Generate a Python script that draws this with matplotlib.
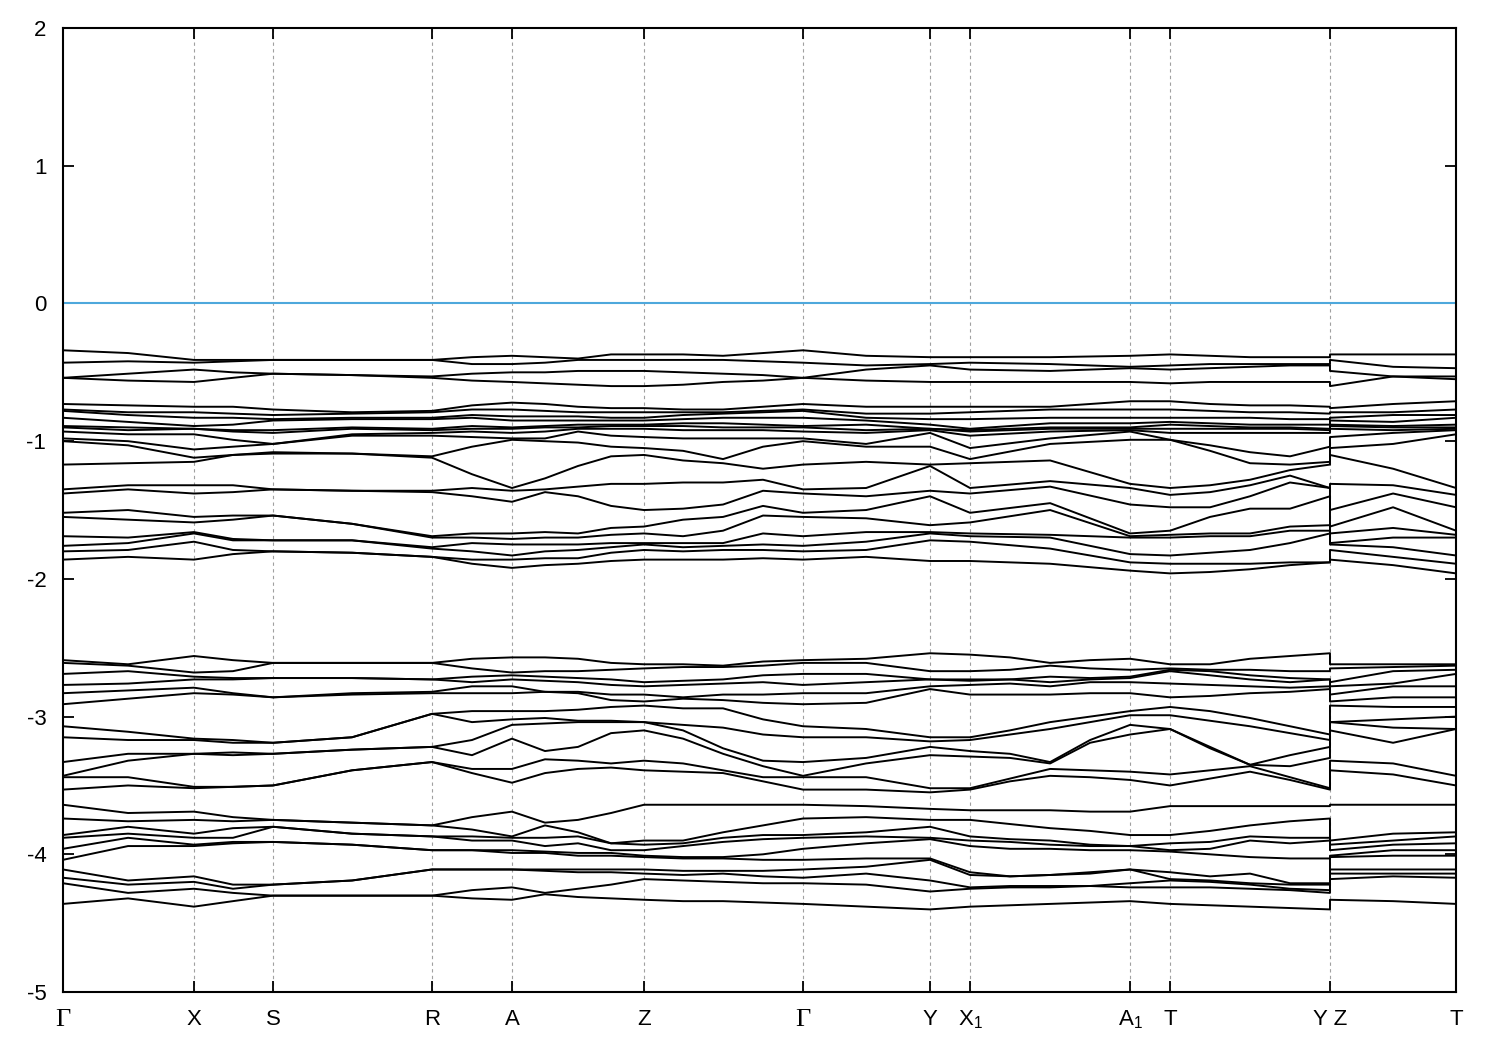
import numpy as np
import matplotlib.pyplot as plt

plt.rcParams['font.family'] = ['Liberation Sans', 'DejaVu Sans']
plt.rcParams['mathtext.fontset'] = 'custom'
plt.rcParams['mathtext.rm'] = 'Liberation Sans'
plt.rcParams['mathtext.it'] = 'Liberation Sans'
plt.rcParams['axes.unicode_minus'] = False

# high-symmetry points along the k-path
labels = ['Γ', 'X', 'S', 'R', 'A', 'Z', 'Γ', 'Y', 'X$_1$', 'A$_1$', 'T', 'Y Z', 'T']
k_ticks = [0.0, 0.0940, 0.1508, 0.2649, 0.3223, 0.4171, 0.5312, 0.6224, 0.6511, 0.7660, 0.7947, 0.9095, 1.0]

# k positions where energies were read
k_up = [0.0, 0.0467, 0.0940, 0.1220, 0.1508, 0.2075, 0.2649, 0.2936, 0.3223, 0.3460,
        0.3697, 0.3934, 0.4171, 0.4451, 0.4738, 0.5025, 0.5312, 0.5765, 0.6224, 0.6511,
        0.7086, 0.7660, 0.7947, 0.8234, 0.8521, 0.8808, 0.9095, 0.9095, 0.9548, 1.0]
k_lo = [0.0, 0.0467, 0.0940, 0.1220, 0.1508, 0.2075, 0.2649, 0.2936, 0.3223, 0.3460,
        0.3697, 0.3934, 0.4171, 0.4451, 0.4738, 0.5025, 0.5312, 0.5765, 0.6224, 0.6511,
        0.6798, 0.7086, 0.7373, 0.7660, 0.7947, 0.8234, 0.8521, 0.8808, 0.9095, 0.9095,
        0.9548, 1.0]

# upper valence block (eV), one list per k position
u_g = [-0.34, -0.43, -0.54, -0.54, -0.73, -0.77, -0.78, -0.83, -0.89, -0.90, -0.93, -0.98, -1.00, -1.17, -1.35, -1.38, -1.52, -1.55, -1.69, -1.76, -1.80, -1.86]
u_gx = [-0.36, -0.42, -0.51, -0.56, -0.74, -0.79, -0.81, -0.86, -0.90, -0.92, -0.95, -1.00, -1.03, -1.16, -1.32, -1.35, -1.50, -1.57, -1.70, -1.74, -1.79, -1.84]
u_x = [-0.41, -0.43, -0.48, -0.57, -0.75, -0.79, -0.83, -0.89, -0.91, -0.91, -0.95, -1.06, -1.12, -1.15, -1.32, -1.38, -1.55, -1.59, -1.66, -1.67, -1.73, -1.86]
u_xs = [-0.41, -0.42, -0.50, -0.54, -0.75, -0.80, -0.83, -0.88, -0.92, -0.93, -0.99, -1.04, -1.10, -1.10, -1.32, -1.37, -1.54, -1.57, -1.71, -1.72, -1.79, -1.82]
u_s = [-0.41, -0.41, -0.51, -0.51, -0.77, -0.81, -0.84, -0.85, -0.92, -0.94, -1.02, -1.02, -1.08, -1.09, -1.35, -1.35, -1.54, -1.54, -1.72, -1.72, -1.80, -1.80]
u_sr = [-0.41, -0.41, -0.52, -0.52, -0.79, -0.80, -0.83, -0.84, -0.90, -0.91, -0.95, -0.96, -1.09, -1.09, -1.36, -1.36, -1.60, -1.60, -1.72, -1.72, -1.81, -1.81]
u_r = [-0.41, -0.41, -0.53, -0.54, -0.78, -0.79, -0.83, -0.84, -0.91, -0.92, -0.94, -0.96, -1.11, -1.12, -1.36, -1.37, -1.69, -1.70, -1.77, -1.78, -1.84, -1.84]
u_ra = [-0.39, -0.44, -0.51, -0.56, -0.74, -0.77, -0.81, -0.83, -0.89, -0.91, -0.93, -0.97, -1.04, -1.24, -1.34, -1.40, -1.67, -1.70, -1.74, -1.80, -1.86, -1.89]
u_a = [-0.38, -0.44, -0.50, -0.57, -0.72, -0.77, -0.82, -0.85, -0.90, -0.91, -0.94, -0.98, -0.99, -1.34, -1.36, -1.44, -1.67, -1.71, -1.75, -1.83, -1.86, -1.92]
u_az1 = [-0.39, -0.43, -0.50, -0.58, -0.73, -0.78, -0.82, -0.85, -0.89, -0.90, -0.93, -0.98, -1.00, -1.27, -1.35, -1.37, -1.66, -1.70, -1.75, -1.80, -1.85, -1.90]
u_az = [-0.40, -0.41, -0.49, -0.59, -0.75, -0.79, -0.82, -0.85, -0.88, -0.90, -0.91, -0.93, -1.01, -1.18, -1.33, -1.40, -1.67, -1.70, -1.75, -1.79, -1.85, -1.89]
u_az2 = [-0.37, -0.41, -0.49, -0.60, -0.76, -0.79, -0.83, -0.85, -0.88, -0.89, -0.91, -0.96, -1.04, -1.11, -1.31, -1.47, -1.63, -1.68, -1.74, -1.77, -1.81, -1.87]
u_z = [-0.37, -0.41, -0.49, -0.60, -0.76, -0.79, -0.83, -0.85, -0.88, -0.89, -0.91, -0.97, -1.05, -1.10, -1.31, -1.50, -1.62, -1.67, -1.74, -1.75, -1.79, -1.86]
u_zg1 = [-0.37, -0.41, -0.50, -0.59, -0.77, -0.79, -0.81, -0.84, -0.87, -0.89, -0.92, -0.98, -1.07, -1.14, -1.30, -1.49, -1.57, -1.69, -1.74, -1.77, -1.80, -1.86]
u_zg = [-0.38, -0.41, -0.51, -0.57, -0.77, -0.79, -0.80, -0.83, -0.87, -0.90, -0.92, -0.98, -1.13, -1.16, -1.30, -1.46, -1.55, -1.65, -1.74, -1.76, -1.79, -1.86]
u_zg2 = [-0.36, -0.42, -0.52, -0.56, -0.75, -0.78, -0.79, -0.83, -0.88, -0.90, -0.92, -0.98, -1.04, -1.20, -1.28, -1.36, -1.47, -1.54, -1.67, -1.75, -1.79, -1.85]
u_gy = [-0.38, -0.45, -0.48, -0.56, -0.75, -0.80, -0.83, -0.85, -0.88, -0.92, -0.94, -1.02, -1.04, -1.15, -1.34, -1.40, -1.50, -1.56, -1.66, -1.73, -1.79, -1.84]
u_y = [-0.39, -0.44, -0.45, -0.57, -0.75, -0.80, -0.84, -0.88, -0.91, -0.91, -0.92, -0.94, -1.04, -1.17, -1.18, -1.36, -1.40, -1.61, -1.66, -1.67, -1.72, -1.87]
u_x1 = [-0.39, -0.43, -0.48, -0.57, -0.75, -0.79, -0.84, -0.91, -0.92, -0.93, -0.96, -1.05, -1.13, -1.16, -1.34, -1.38, -1.52, -1.59, -1.67, -1.69, -1.73, -1.87]
u_xa = [-0.39, -0.44, -0.49, -0.57, -0.75, -0.77, -0.83, -0.87, -0.90, -0.91, -0.93, -0.98, -1.02, -1.14, -1.29, -1.33, -1.45, -1.50, -1.68, -1.70, -1.78, -1.89]
u_a1 = [-0.38, -0.46, -0.47, -0.57, -0.71, -0.77, -0.83, -0.87, -0.90, -0.91, -0.92, -0.93, -0.99, -1.31, -1.34, -1.46, -1.67, -1.69, -1.70, -1.82, -1.88, -1.94]
u_t = [-0.37, -0.45, -0.48, -0.58, -0.71, -0.77, -0.83, -0.86, -0.88, -0.91, -0.94, -0.99, -0.99, -1.34, -1.39, -1.48, -1.65, -1.68, -1.70, -1.83, -1.89, -1.96]
u_ty1 = [-0.38, -0.44, -0.47, -0.57, -0.73, -0.78, -0.83, -0.87, -0.89, -0.91, -0.94, -1.03, -1.07, -1.32, -1.37, -1.48, -1.55, -1.67, -1.69, -1.81, -1.89, -1.95]
u_ty2 = [-0.39, -0.44, -0.46, -0.57, -0.74, -0.79, -0.83, -0.88, -0.90, -0.91, -0.94, -1.08, -1.16, -1.28, -1.32, -1.40, -1.49, -1.67, -1.69, -1.79, -1.89, -1.93]
u_ty3 = [-0.39, -0.44, -0.45, -0.57, -0.74, -0.79, -0.84, -0.88, -0.90, -0.91, -0.94, -1.11, -1.17, -1.21, -1.25, -1.30, -1.49, -1.62, -1.65, -1.74, -1.88, -1.90]
u_y2 = [-0.39, -0.44, -0.45, -0.57, -0.75, -0.80, -0.84, -0.88, -0.91, -0.92, -0.94, -1.04, -1.15, -1.17, -1.34, -1.34, -1.40, -1.61, -1.65, -1.67, -1.88, -1.88]
u_zt = [-0.37, -0.46, -0.53, -0.53, -0.73, -0.79, -0.81, -0.86, -0.89, -0.90, -0.92, -0.94, -1.02, -1.20, -1.32, -1.38, -1.48, -1.63, -1.70, -1.77, -1.84, -1.90]
u_t2 = [-0.37, -0.47, -0.53, -0.55, -0.71, -0.77, -0.81, -0.83, -0.88, -0.90, -0.91, -0.92, -0.95, -1.34, -1.39, -1.48, -1.65, -1.68, -1.70, -1.83, -1.89, -1.96]

# lower valence block (eV)
l_g = [-2.59, -2.61, -2.69, -2.77, -2.83, -2.91, -3.07, -3.15, -3.33, -3.43, -3.44, -3.53, -3.64, -3.74, -3.86, -3.88, -3.96, -4.04, -4.11, -4.17, -4.21, -4.36]
l_gx = [-2.62, -2.63, -2.67, -2.76, -2.81, -2.87, -3.11, -3.17, -3.27, -3.32, -3.44, -3.50, -3.70, -3.76, -3.80, -3.85, -3.88, -3.94, -4.19, -4.22, -4.28, -4.32]
l_x = [-2.56, -2.68, -2.71, -2.73, -2.79, -2.83, -3.16, -3.17, -3.27, -3.27, -3.51, -3.52, -3.69, -3.75, -3.85, -3.88, -3.93, -3.94, -4.16, -4.20, -4.25, -4.38]
l_xs = [-2.59, -2.67, -2.72, -2.73, -2.83, -2.84, -3.17, -3.19, -3.26, -3.28, -3.51, -3.51, -3.73, -3.76, -3.81, -3.88, -3.91, -3.92, -4.22, -4.25, -4.28, -4.34]
l_s = [-2.61, -2.61, -2.72, -2.72, -2.86, -2.86, -3.19, -3.19, -3.27, -3.27, -3.50, -3.50, -3.75, -3.75, -3.80, -3.80, -3.91, -3.91, -4.22, -4.22, -4.30, -4.30]
l_sr = [-2.61, -2.61, -2.72, -2.72, -2.83, -2.84, -3.15, -3.15, -3.24, -3.24, -3.39, -3.39, -3.77, -3.77, -3.85, -3.85, -3.93, -3.93, -4.19, -4.19, -4.30, -4.30]
l_r = [-2.61, -2.61, -2.73, -2.73, -2.82, -2.83, -2.98, -2.98, -3.22, -3.22, -3.33, -3.33, -3.79, -3.79, -3.87, -3.87, -3.97, -3.97, -4.11, -4.11, -4.30, -4.30]
l_ra = [-2.58, -2.65, -2.71, -2.75, -2.78, -2.83, -2.96, -3.04, -3.17, -3.28, -3.38, -3.41, -3.73, -3.82, -3.87, -3.90, -3.97, -3.97, -4.11, -4.11, -4.26, -4.32]
l_a = [-2.57, -2.68, -2.70, -2.73, -2.78, -2.83, -2.96, -3.02, -3.06, -3.16, -3.38, -3.48, -3.69, -3.87, -3.88, -3.90, -3.97, -3.99, -4.11, -4.11, -4.24, -4.33]
l_az1 = [-2.57, -2.67, -2.71, -2.74, -2.82, -2.82, -2.96, -3.01, -3.05, -3.25, -3.31, -3.41, -3.77, -3.79, -3.88, -3.94, -3.98, -3.99, -4.11, -4.12, -4.28, -4.29]
l_az = [-2.58, -2.67, -2.72, -2.75, -2.82, -2.83, -2.95, -3.03, -3.04, -3.22, -3.32, -3.38, -3.75, -3.84, -3.87, -3.92, -3.99, -4.01, -4.11, -4.13, -4.25, -4.31]
l_az2 = [-2.61, -2.66, -2.73, -2.77, -2.84, -2.88, -2.93, -3.03, -3.04, -3.12, -3.34, -3.37, -3.70, -3.92, -3.92, -3.97, -3.99, -4.01, -4.11, -4.13, -4.22, -4.32]
l_z = [-2.62, -2.65, -2.75, -2.78, -2.84, -2.89, -2.92, -3.04, -3.04, -3.10, -3.32, -3.39, -3.64, -3.90, -3.93, -3.97, -4.01, -4.02, -4.11, -4.14, -4.18, -4.33]
l_zg1 = [-2.62, -2.64, -2.74, -2.77, -2.86, -2.87, -2.94, -3.06, -3.10, -3.16, -3.34, -3.40, -3.64, -3.90, -3.92, -3.94, -4.02, -4.03, -4.12, -4.15, -4.19, -4.34]
l_zg = [-2.63, -2.64, -2.73, -2.76, -2.84, -2.88, -2.94, -3.08, -3.23, -3.27, -3.39, -3.41, -3.64, -3.84, -3.88, -3.91, -4.02, -4.03, -4.12, -4.14, -4.20, -4.34]
l_zg2 = [-2.60, -2.63, -2.70, -2.75, -2.84, -2.90, -3.02, -3.13, -3.32, -3.36, -3.44, -3.47, -3.64, -3.79, -3.86, -3.89, -4.00, -4.04, -4.12, -4.16, -4.21, -4.35]
l_gy = [-2.58, -2.61, -2.69, -2.75, -2.83, -2.90, -3.09, -3.15, -3.30, -3.34, -3.44, -3.53, -3.65, -3.73, -3.84, -3.87, -3.92, -4.03, -4.09, -4.14, -4.22, -4.38]
l_y = [-2.54, -2.67, -2.73, -2.73, -2.78, -2.80, -3.15, -3.18, -3.22, -3.28, -3.52, -3.55, -3.67, -3.75, -3.80, -3.88, -3.89, -4.03, -4.04, -4.19, -4.27, -4.40]
l_x1 = [-2.55, -2.67, -2.73, -2.74, -2.77, -2.84, -3.15, -3.17, -3.25, -3.29, -3.52, -3.53, -3.68, -3.75, -3.87, -3.90, -3.94, -4.13, -4.15, -4.24, -4.25, -4.38]
l_xa1 = [-2.57, -2.66, -2.73, -2.73, -2.76, -2.84, -3.10, -3.13, -3.27, -3.30, -3.45, -3.47, -3.68, -3.78, -3.89, -3.91, -3.96, -4.16, -4.16, -4.23, -4.24, -4.37]
l_xa2 = [-2.61, -2.63, -2.71, -2.75, -2.78, -2.84, -3.04, -3.09, -3.33, -3.34, -3.38, -3.43, -3.68, -3.81, -3.90, -3.93, -3.96, -4.15, -4.15, -4.23, -4.24, -4.36]
l_xa3 = [-2.59, -2.65, -2.72, -2.73, -2.75, -2.83, -3.00, -3.04, -3.17, -3.19, -3.39, -3.44, -3.69, -3.83, -3.93, -3.94, -3.97, -4.13, -4.14, -4.23, -4.23, -4.35]
l_a1 = [-2.58, -2.66, -2.71, -2.72, -2.75, -2.83, -2.96, -2.99, -3.06, -3.13, -3.40, -3.46, -3.69, -3.86, -3.94, -3.94, -3.97, -4.11, -4.11, -4.21, -4.24, -4.34]
l_t = [-2.62, -2.65, -2.66, -2.67, -2.76, -2.86, -2.93, -2.99, -3.09, -3.09, -3.42, -3.50, -3.65, -3.86, -3.92, -3.97, -3.98, -4.13, -4.18, -4.19, -4.24, -4.36]
l_ty1 = [-2.62, -2.66, -2.67, -2.70, -2.77, -2.85, -2.96, -3.03, -3.22, -3.23, -3.39, -3.45, -3.65, -3.83, -3.91, -3.96, -4.00, -4.16, -4.19, -4.20, -4.24, -4.37]
l_ty2 = [-2.58, -2.66, -2.70, -2.73, -2.78, -2.83, -3.01, -3.07, -3.35, -3.35, -3.36, -3.40, -3.65, -3.79, -3.87, -3.90, -4.02, -4.14, -4.21, -4.22, -4.25, -4.38]
l_ty3 = [-2.56, -2.67, -2.72, -2.75, -2.79, -2.82, -3.07, -3.12, -3.28, -3.36, -3.44, -3.46, -3.65, -3.76, -3.88, -3.92, -4.03, -4.21, -4.22, -4.25, -4.26, -4.39]
l_y2 = [-2.54, -2.67, -2.73, -2.73, -2.78, -2.80, -3.13, -3.17, -3.22, -3.30, -3.52, -3.53, -3.65, -3.74, -3.88, -3.90, -4.03, -4.21, -4.22, -4.26, -4.28, -4.40]
l_zt = [-2.62, -2.64, -2.67, -2.76, -2.78, -2.86, -2.93, -3.02, -3.08, -3.19, -3.34, -3.42, -3.64, -3.85, -3.90, -3.93, -3.97, -4.01, -4.11, -4.14, -4.16, -4.34]
l_t2 = [-2.62, -2.63, -2.66, -2.69, -2.78, -2.86, -2.93, -3.00, -3.09, -3.09, -3.43, -3.50, -3.64, -3.84, -3.87, -3.92, -3.97, -4.01, -4.11, -4.14, -4.17, -4.36]

upper_cols = [u_g, u_gx, u_x, u_xs, u_s, u_sr, u_r, u_ra, u_a, u_az1, u_az, u_az2, u_z,
              u_zg1, u_zg, u_zg2, u_g, u_gy, u_y, u_x1, u_xa, u_a1, u_t, u_ty1, u_ty2,
              u_ty3, u_y2, u_z, u_zt, u_t2]
lower_cols = [l_g, l_gx, l_x, l_xs, l_s, l_sr, l_r, l_ra, l_a, l_az1, l_az, l_az2, l_z,
              l_zg1, l_zg, l_zg2, l_g, l_gy, l_y, l_x1, l_xa1, l_xa2, l_xa3, l_a1, l_t,
              l_ty1, l_ty2, l_ty3, l_y2, l_z, l_zt, l_t2]

upper = np.sort(np.array(upper_cols), axis=1)
lower = np.sort(np.array(lower_cols), axis=1)

fig = plt.figure(figsize=(15, 10.5), dpi=100)
ax = fig.add_axes([0.042, 0.0552, 0.9287, 0.9181])

for x in k_ticks[1:-1]:
    ax.axvline(x, color='#a0a0a0', lw=0.8, ls=(0, (3, 3)), zorder=1)

ax.axhline(0, color='#4ea8dc', lw=1.5, zorder=2)

for band in upper.T:
    ax.plot(k_up, band, color='black', lw=1.4, zorder=3)
for band in lower.T:
    ax.plot(k_lo, band, color='black', lw=1.4, zorder=3)

ax.set_xlim(0, 1)
ax.set_ylim(-5, 2)
ax.set_yticks(range(-5, 3))
ax.set_xticks(k_ticks)
ax.set_xticklabels(labels)
ax.tick_params(axis='both', direction='in', length=8, width=1.3, labelsize=16,
               top=True, right=True)
ax.tick_params(axis='x', pad=12)
ax.tick_params(axis='y', pad=12)
for lbl in ax.get_xticklabels():
    if lbl.get_text() == 'Γ':
        lbl.set_family('Liberation Serif')
        lbl.set_fontsize(19)
for sp in ax.spines.values():
    sp.set_linewidth(1.5)

fig.savefig('out.png', dpi=100)
